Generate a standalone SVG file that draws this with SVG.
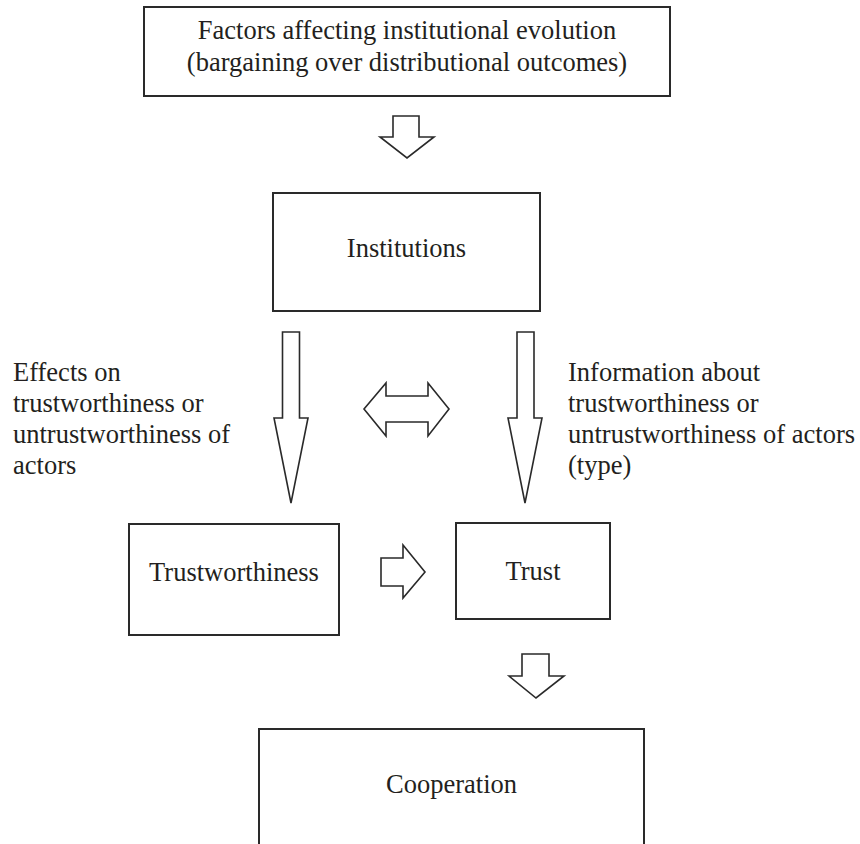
<svg xmlns="http://www.w3.org/2000/svg" width="860" height="844" viewBox="0 0 860 844">
<style>
.box{fill:#fff;stroke:#2a2a2a;stroke-width:2}
.arr{fill:#fff;stroke:#2a2a2a;stroke-width:1.6;stroke-linejoin:miter}
text{font-family:"Liberation Serif","Times New Roman",serif;font-size:26.5px;fill:#231f20}
.c{text-anchor:middle}
</style>
<rect width="860" height="844" fill="#fff"/>
<g id="factors">
<rect class="box" x="144" y="7" width="526" height="89"/>
<text class="c" x="407" y="39">Factors affecting institutional evolution</text>
<text class="c" x="407" y="71">(bargaining over distributional outcomes)</text>
</g>
<g id="institutions">
<rect class="box" x="273" y="193" width="267" height="118"/>
<text class="c" x="406.5" y="257">Institutions</text>
</g>
<g id="trustworthiness">
<rect class="box" x="129" y="524" width="210" height="111"/>
<text class="c" x="234" y="581">Trustworthiness</text>
</g>
<g id="trust">
<rect class="box" x="456" y="523" width="154" height="96"/>
<text class="c" x="533" y="580">Trust</text>
</g>
<g id="cooperation">
<rect class="box" x="259" y="729" width="385" height="140"/>
<text class="c" x="451.5" y="793">Cooperation</text>
</g>
<g id="label-effects">
<text x="13" y="381">Effects on</text>
<text x="13" y="412">trustworthiness or</text>
<text x="13" y="443">untrustworthiness of</text>
<text x="13" y="474">actors</text>
</g>
<g id="label-information">
<text x="568" y="381">Information about</text>
<text x="568" y="412">trustworthiness or</text>
<text x="568" y="443">untrustworthiness of actors</text>
<text x="568" y="474">(type)</text>
</g>
<g id="connectors">
<polygon class="arr" points="393,116 419,116 419,137 434,137 407,158 380,137 393,137"/>
<polygon class="arr" points="282.5,332 299.5,332 299.5,418 308,418 291,503 274,418 282.5,418"/>
<polygon class="arr" points="517,332 534,332 534,418 542,418 525,503 508,418 517,418"/>
<polygon class="arr" points="364,409 386,383 386,396 428,396 428,383 449,409 428,436 428,422 386,422 386,436"/>
<polygon class="arr" points="381,558 403,558 403,545 425,572 403,598 403,586 381,586"/>
<polygon class="arr" points="522,654 549,654 549,676 564,676 536,698 509,676 522,676"/>
</g>
</svg>
